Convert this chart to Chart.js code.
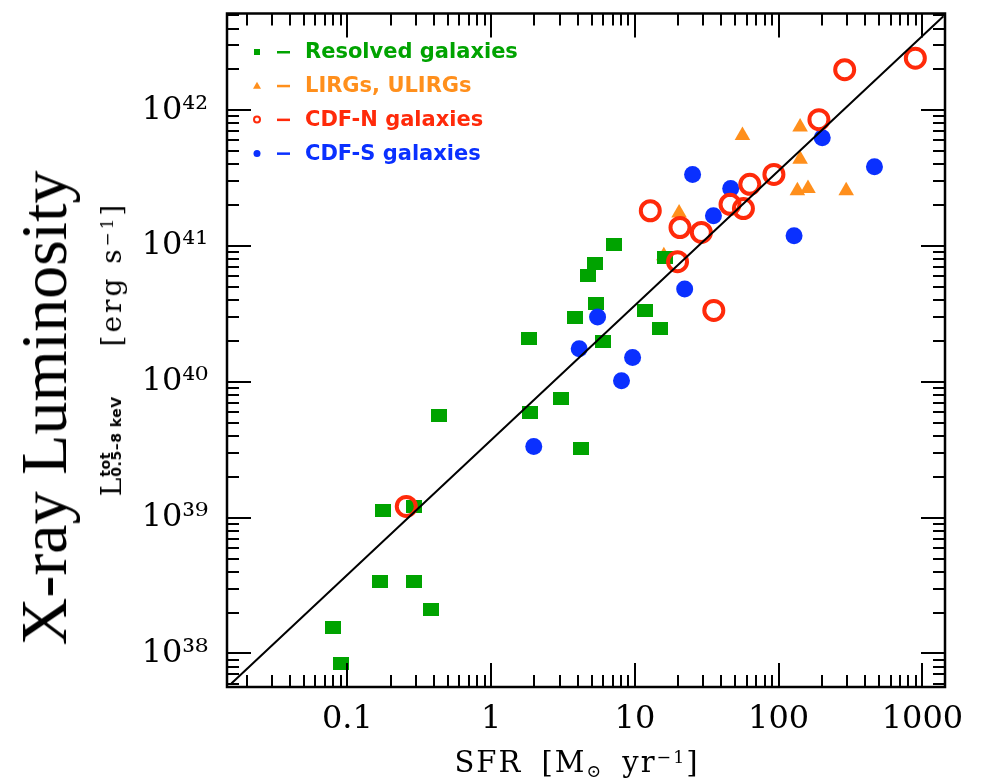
<!DOCTYPE html>
<html><head><meta charset="utf-8">
<script src="https://cdn.jsdelivr.net/npm/chart.js@4.4.1/dist/chart.umd.min.js"></script>
<style>
html,body{margin:0;padding:0;background:#fff;}
#wrap{position:relative;width:984px;height:782px;overflow:hidden;background:#fff;}
#c{position:absolute;left:0;top:0;}
.rot{position:absolute;transform:translate(-50%,-50%) rotate(-90deg);white-space:nowrap;line-height:1;color:#000;}
#xray{left:44px;top:408px;font-family:"Liberation Serif";font-size:66px;}
#ytitle{left:112px;top:349px;font-family:"DejaVu Serif";font-size:28px;}
#xtitle{position:absolute;left:577px;top:748px;transform:translateX(-50%);white-space:nowrap;line-height:1;font-family:"DejaVu Serif";font-size:29px;letter-spacing:2px;word-spacing:8px;color:#000;}
.sup{position:relative;top:-0.5em;font-size:0.6em;}
.sub{position:relative;top:0.3em;font-size:0.6em;}
.stack{display:inline-block;font-family:"DejaVu Sans";font-weight:bold;font-size:14px;line-height:11px;vertical-align:baseline;letter-spacing:0.5px;margin-left:1px;}
.stack span{display:block;}
.bra{margin-left:50px;letter-spacing:3px;}
</style></head>
<body>
<div id="wrap">
<canvas id="c" width="984" height="782"></canvas>
<div id="xray" class="rot">X-ray Luminosity</div>
<div id="ytitle" class="rot"><span>L</span><span class="stack"><span>tot</span><span>0.5–8 keV</span></span><span class="bra">[erg s<span class="sup">−1</span>]</span></div>
<div id="xtitle">SFR [M<span class="sub">⊙</span> yr<span class="sup">−1</span>]</div>
</div>
<script>
// ---- data ----
const resolvedSFR = [0.079, 0.09, 0.177, 0.29, 0.17, 0.29, 0.383, 0.437, 1.83, 1.85, 3.06, 4.22, 3.85, 4.69, 5.25, 5.35, 7.18, 5.98, 11.7, 14.9, 16.1];
const resolvedLx  = [1.54e38, 8.45e37, 1.13e39, 1.21e39, 3.41e38, 3.41e38, 2.09e38, 5.7e39, 2.08e40, 5.96e39, 7.55e39, 3.24e39, 2.97e40, 6.12e40, 7.4e40, 3.75e40, 1.03e41, 1.99e40, 3.34e40, 2.46e40, 8.27e40];
const lirgSFR = [15.9, 20.3, 56, 141, 141, 135, 160, 295];
const lirgLx  = [8.5e40, 1.75e41, 6.52e41, 7.54e41, 4.35e41, 2.55e41, 2.65e41, 2.55e41];
const cdfnSFR = [0.257, 12.8, 20.6, 29.0, 45.9, 56.9, 63, 92.7, 190.6, 288, 893, 19.8, 35.4];
const cdfnLx  = [1.21e39, 1.82e41, 1.37e41, 1.26e41, 2.03e41, 1.89e41, 2.85e41, 3.37e41, 8.53e41, 1.99e42, 2.42e42, 7.67e40, 3.36e40];
const cdfsSFR = [1.98, 4.1, 5.5, 9.64, 8.07, 22.2, 128, 35.2, 25.2, 46.4, 201, 464];
const cdfsLx  = [3.34e39, 1.75e40, 3.0e40, 1.51e40, 1.02e40, 4.83e40, 1.19e41, 1.67e41, 3.37e41, 2.65e41, 6.27e41, 3.84e41];
const fitSFR = [0.0156, 1400];
const fitLx  = [6.0e37, 4.92e42];
const seriesLabels = ['Resolved galaxies', 'LIRGs, ULIRGs', 'CDF-N galaxies', 'CDF-S galaxies'];
const xTickValues = [0.1, 1, 10, 100, 1000];
const xTickLabels = ['0.1', '1', '10', '100', '1000'];
const yTickValues = [1e38, 1e39, 1e40, 1e41, 1e42];
const yTickLabels = ['10\u00B3\u2078', '10\u00B3\u2079', '10\u2074\u2070', '10\u2074\u00B9', '10\u2074\u00B2'];
const xRange = [0.01455, 1436];
const yRange = [5.66e37, 5.16e42];

const pts = (xs, ys) => xs.map((x, i) => ({x: x, y: ys[i]}));

const GREEN = '#00a300', ORANGE = '#ff8f1c', RED = '#ff2a0a', BLUE = '#0a30ff';

// green rectangle marker (slightly wider than tall)
const rectImg = document.createElement('canvas');
rectImg.width = 16; rectImg.height = 13;
{ const g = rectImg.getContext('2d'); g.fillStyle = GREEN; g.fillRect(0, 0, 16, 13); }

const frameTicks = {
  id: 'frameTicks',
  afterDraw(chart) {
    const {ctx, chartArea: a, scales} = chart;
    ctx.save();
    ctx.strokeStyle = '#000';
    ctx.lineWidth = 2;
    const gen = (sc) => {
      const out = [];
      const e0 = Math.floor(Math.log10(sc.min)), e1 = Math.ceil(Math.log10(sc.max));
      for (let e = e0; e <= e1; e++) for (let m = 1; m <= 9; m++) {
        const v = m * Math.pow(10, e);
        if (v > sc.min && v < sc.max) out.push({v, major: m === 1});
      }
      return out;
    };
    ctx.beginPath();
    gen(scales.x).forEach(t => {
      const p = Math.round(scales.x.getPixelForValue(t.v));
      const L = t.major ? 24 : 12;
      ctx.moveTo(p, a.bottom); ctx.lineTo(p, a.bottom - L);
      ctx.moveTo(p, a.top); ctx.lineTo(p, a.top + L);
    });
    gen(scales.y).forEach(t => {
      const p = Math.round(scales.y.getPixelForValue(t.v));
      const L = t.major ? 24 : 12;
      ctx.moveTo(a.left, p); ctx.lineTo(a.left + L, p);
      ctx.moveTo(a.right, p); ctx.lineTo(a.right - L, p);
    });
    ctx.stroke();
    ctx.lineWidth = 2.5;
    ctx.strokeRect(a.left, a.top, a.right - a.left, a.bottom - a.top);
    ctx.restore();
  }
};

const inLegend = {
  id: 'inLegend',
  afterDraw(chart) {
    const ctx = chart.ctx;
    const items = [
      {label: seriesLabels[0], color: GREEN, style: 'rect'},
      {label: seriesLabels[1], color: ORANGE, style: 'tri'},
      {label: seriesLabels[2], color: RED, style: 'ring'},
      {label: seriesLabels[3], color: BLUE, style: 'dot'}
    ];
    ctx.save();
    items.forEach((it, i) => {
      const y = 52 + i * 33.8, mx = 257;
      ctx.fillStyle = it.color; ctx.strokeStyle = it.color;
      ctx.beginPath();
      if (it.style === 'rect') ctx.fillRect(mx - 3, y - 3, 6, 6);
      else if (it.style === 'tri') { ctx.moveTo(mx, y - 4); ctx.lineTo(mx + 4, y + 3); ctx.lineTo(mx - 4, y + 3); ctx.closePath(); ctx.fill(); }
      else if (it.style === 'ring') { ctx.lineWidth = 2; ctx.arc(mx, y, 3, 0, Math.PI * 2); ctx.stroke(); }
      else { ctx.arc(mx, y, 3.5, 0, Math.PI * 2); ctx.fill(); }
      ctx.fillRect(277, y - 1, 13, 2.5);
      ctx.font = 'bold 21px "DejaVu Sans"';
      ctx.textBaseline = 'middle';
      ctx.textAlign = 'left';
      ctx.fillText(it.label, 305, y + 1);
    });
    ctx.restore();
  }
};

const noPad = s => { s.paddingTop = 0; s.paddingBottom = 0; s.paddingLeft = 0; s.paddingRight = 0; };

new Chart(document.getElementById('c'), {
  type: 'scatter',
  data: {
    datasets: [
      {type: 'line', label: 'fit', data: pts(fitSFR, fitLx), borderColor: '#000', borderWidth: 2, pointRadius: 0, fill: false, showLine: true},
      {label: seriesLabels[2], data: pts(cdfnSFR, cdfnLx), pointStyle: 'circle', pointRadius: 9.5, backgroundColor: 'rgba(0,0,0,0)', borderColor: RED, borderWidth: 4},
      {label: seriesLabels[3], data: pts(cdfsSFR, cdfsLx), pointStyle: 'circle', pointRadius: 8.5, backgroundColor: BLUE, borderWidth: 0},
      {label: seriesLabels[0], data: pts(resolvedSFR, resolvedLx), pointStyle: rectImg, pointRadius: 8, backgroundColor: GREEN, borderWidth: 0},
      {label: seriesLabels[1], data: pts(lirgSFR, lirgLx), pointStyle: 'triangle', pointRadius: 9, backgroundColor: ORANGE, borderWidth: 0}
    ]
  },
  options: {
    responsive: false,
    animation: false,
    devicePixelRatio: 1,
    layout: {padding: {top: 10, right: 39, left: 0, bottom: 0}},
    plugins: {legend: {display: false}, tooltip: {enabled: false}},
    scales: {
      x: {
        type: 'logarithmic', min: xRange[0], max: xRange[1],
        afterBuildTicks: s => { s.ticks = xTickValues.map(v => ({value: v})); },
        afterFit: s => { s.height = 95; noPad(s); },
        grid: {display: false, drawTicks: false},
        border: {display: false},
        ticks: {autoSkip: false, maxRotation: 0, padding: 13, color: '#000', font: {family: 'DejaVu Serif', size: 32},
          callback: (v, i) => xTickLabels[i]}
      },
      y: {
        type: 'logarithmic', min: yRange[0], max: yRange[1],
        afterBuildTicks: s => { s.ticks = yTickValues.map(v => ({value: v})); },
        afterFit: s => { s.width = 227; noPad(s); },
        grid: {display: false, drawTicks: false},
        border: {display: false},
        ticks: {autoSkip: false, padding: 19, color: '#000', font: {family: 'DejaVu Serif', size: 32},
          callback: (v, i) => yTickLabels[i]}
      }
    }
  },
  plugins: [frameTicks, inLegend]
});
</script>
</body></html>
